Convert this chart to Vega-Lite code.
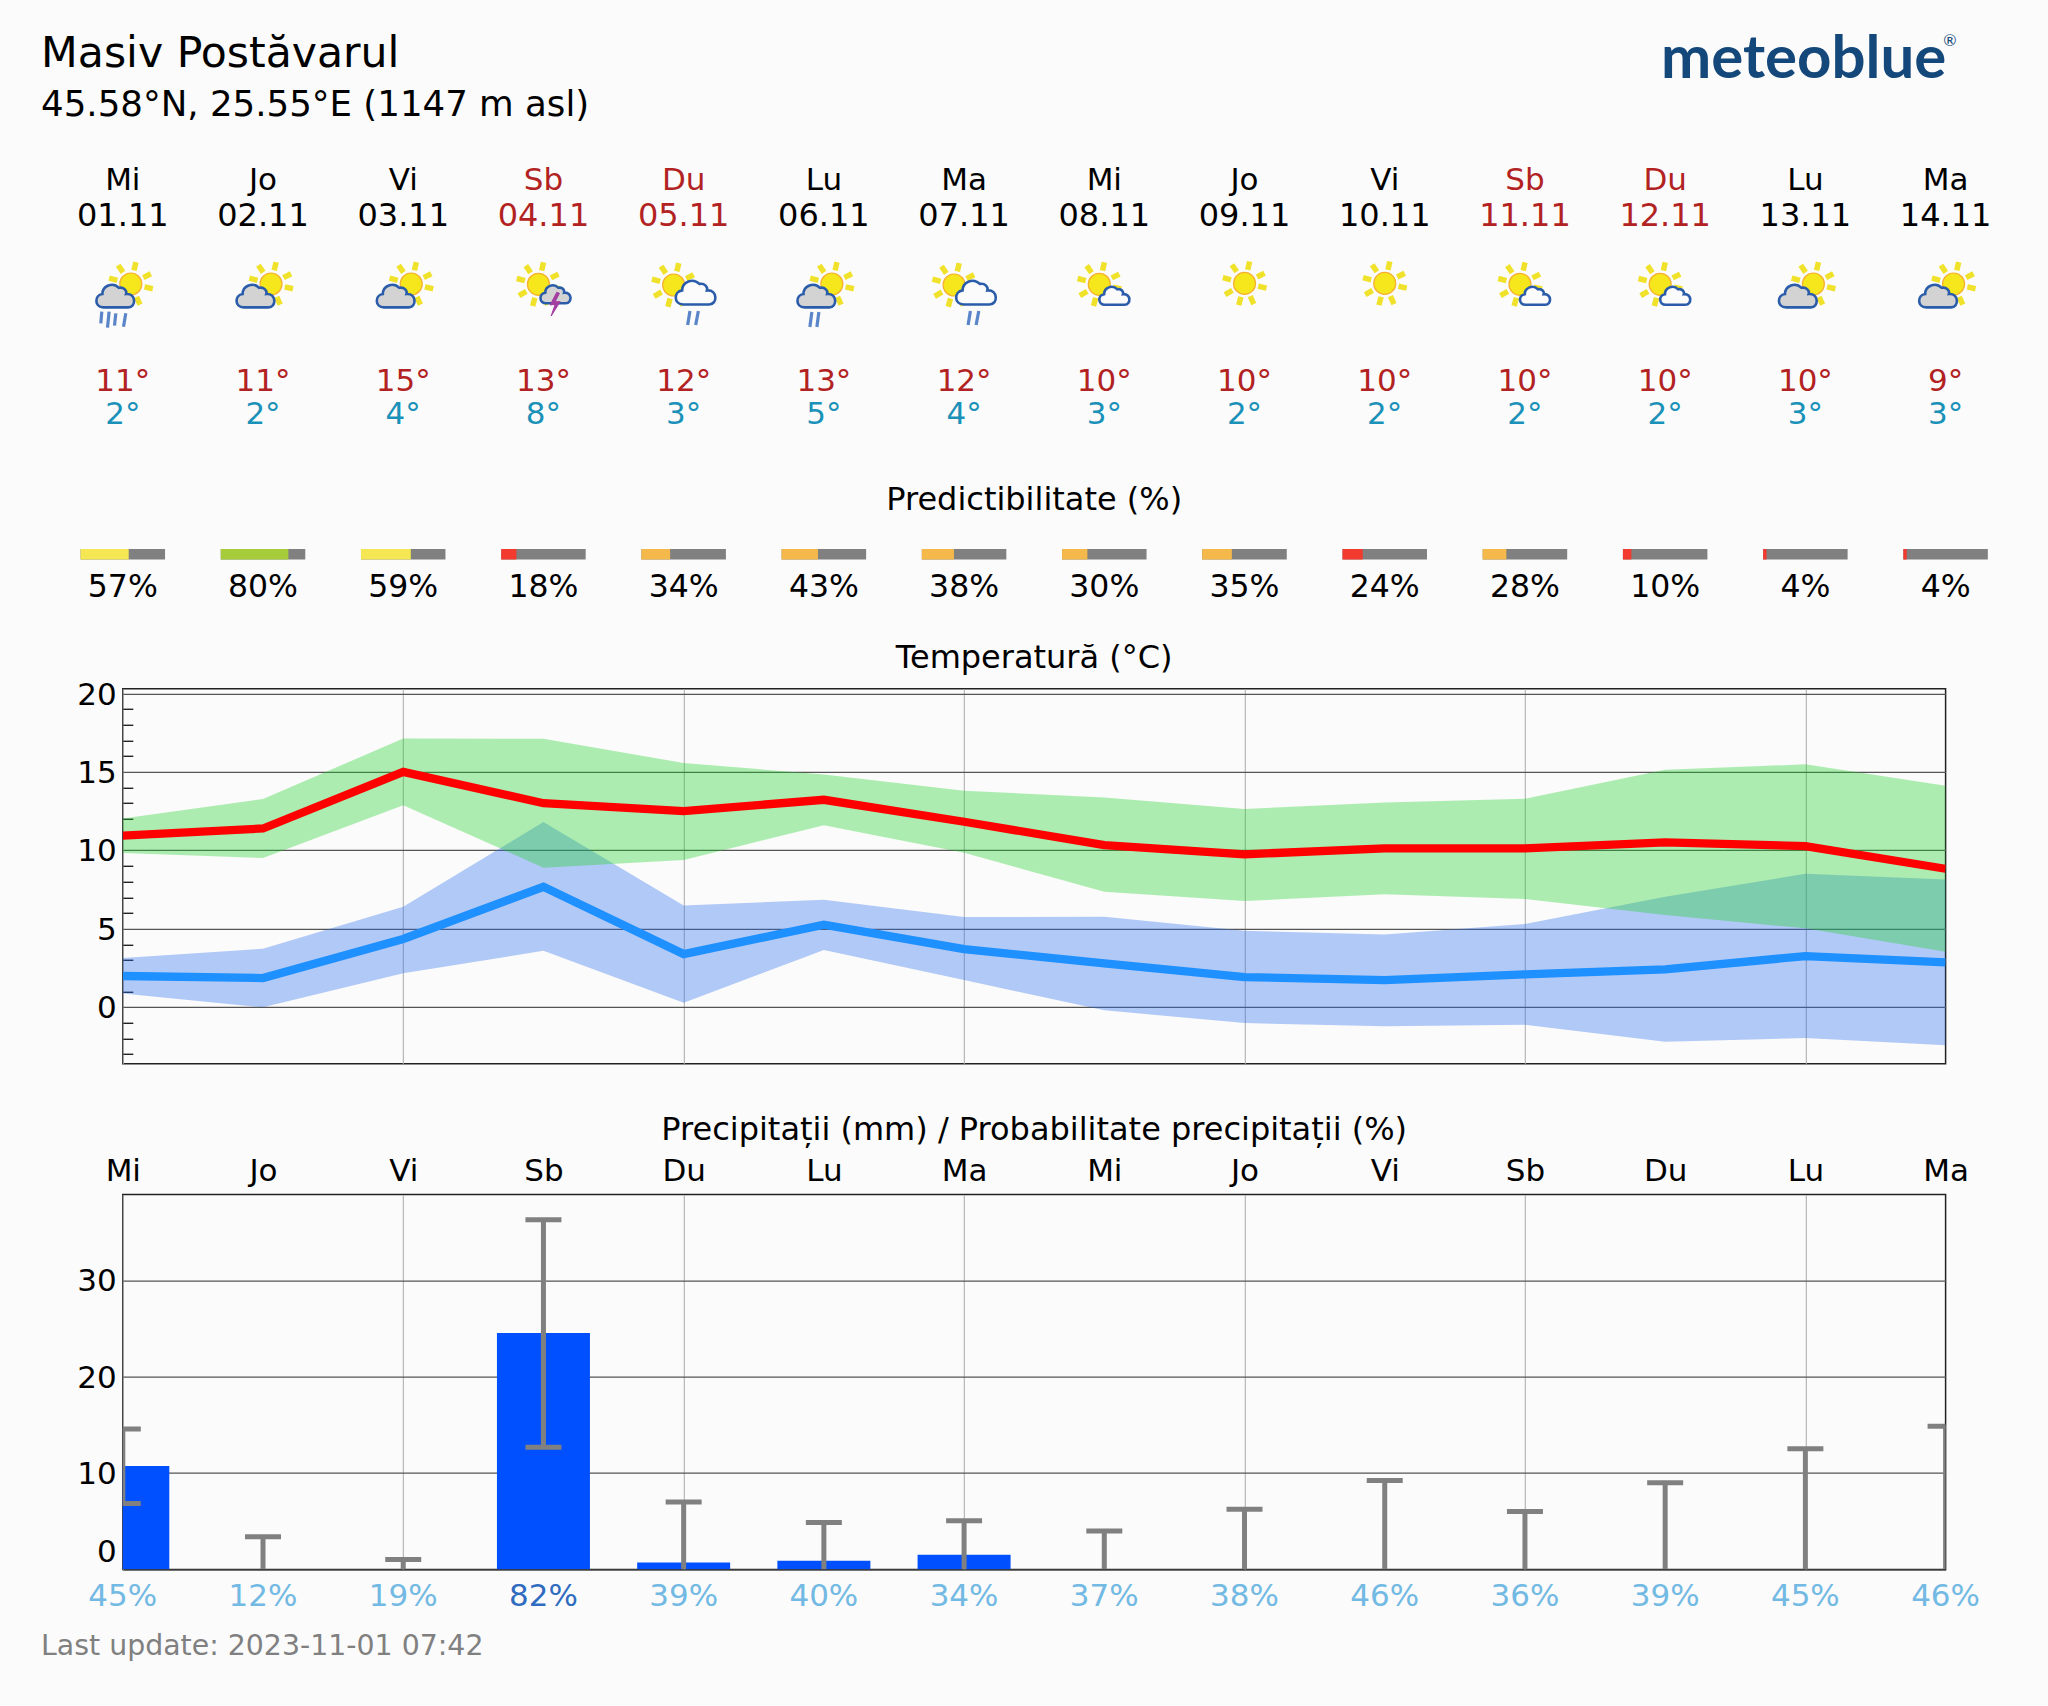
{
"$schema":"https://vega.github.io/schema/vega-lite/v6.json",
"background":"#fbfbfb",
"padding":{"left":39.8,"top":0,"right":62,"bottom":46},
"bounds":"flush",
"spacing":130.8,
"config":{"font":"DejaVu Sans","text":{"font":"DejaVu Sans"},"axis":{"labelFont":"DejaVu Sans","labelFontSize":31,"labelColor":"#000","domain":false,"title":null,"labelOverlap":false,"labelBound":false,"labelFlush":false}},
"data":{"name":"days"},
"datasets":{
"days":[
{"day":0,"weekday":"Mi","date":"01.11","kind":"lucru","maxLabel":"11°","minLabel":"2°","predict":57,"predictLabel":"57%","probLabel":"45%","prob":45,"tmax":10.93,"tmin":1.98,"gHigh":12.03,"gLow":9.82,"bHigh":3.13,"bLow":0.87,"rain":10.72,"rainLow":6.83,"rainHigh":14.57},
{"day":1,"weekday":"Jo","date":"02.11","kind":"lucru","maxLabel":"11°","minLabel":"2°","predict":80,"predictLabel":"80%","probLabel":"12%","prob":12,"tmax":11.39,"tmin":1.85,"gHigh":13.27,"gLow":9.5,"bHigh":3.72,"bLow":-0.02,"rain":0,"rainLow":0,"rainHigh":3.37},
{"day":2,"weekday":"Vi","date":"03.11","kind":"lucru","maxLabel":"15°","minLabel":"4°","predict":59,"predictLabel":"59%","probLabel":"19%","prob":19,"tmax":15.0,"tmin":4.34,"gHigh":17.13,"gLow":12.88,"bHigh":6.4,"bLow":2.15,"rain":0,"rainLow":0,"rainHigh":1.0},
{"day":3,"weekday":"Sb","date":"04.11","kind":"weekend","maxLabel":"13°","minLabel":"8°","predict":18,"predictLabel":"18%","probLabel":"82%","prob":82,"tmax":13.0,"tmin":7.67,"gHigh":17.11,"gLow":8.89,"bHigh":11.8,"bLow":3.59,"rain":24.53,"rainLow":12.66,"rainHigh":36.3},
{"day":4,"weekday":"Du","date":"05.11","kind":"weekend","maxLabel":"12°","minLabel":"3°","predict":34,"predictLabel":"34%","probLabel":"39%","prob":39,"tmax":12.5,"tmin":3.38,"gHigh":15.56,"gLow":9.38,"bHigh":6.48,"bLow":0.28,"rain":0.71,"rainLow":0,"rainHigh":6.99},
{"day":5,"weekday":"Lu","date":"06.11","kind":"lucru","maxLabel":"13°","minLabel":"5°","predict":43,"predictLabel":"43%","probLabel":"40%","prob":40,"tmax":13.22,"tmin":5.25,"gHigh":14.84,"gLow":11.6,"bHigh":6.85,"bLow":3.64,"rain":0.87,"rainLow":0,"rainHigh":4.84},
{"day":6,"weekday":"Ma","date":"07.11","kind":"lucru","maxLabel":"12°","minLabel":"4°","predict":38,"predictLabel":"38%","probLabel":"34%","prob":34,"tmax":11.82,"tmin":3.7,"gHigh":13.8,"gLow":9.84,"bHigh":5.74,"bLow":1.72,"rain":1.51,"rainLow":0,"rainHigh":5.04},
{"day":7,"weekday":"Mi","date":"08.11","kind":"lucru","maxLabel":"10°","minLabel":"3°","predict":30,"predictLabel":"30%","probLabel":"37%","prob":37,"tmax":10.33,"tmin":2.78,"gHigh":13.37,"gLow":7.36,"bHigh":5.76,"bLow":-0.21,"rain":0,"rainLow":0,"rainHigh":3.97},
{"day":8,"weekday":"Jo","date":"09.11","kind":"lucru","maxLabel":"10°","minLabel":"2°","predict":35,"predictLabel":"35%","probLabel":"38%","prob":38,"tmax":9.74,"tmin":1.91,"gHigh":12.63,"gLow":6.76,"bHigh":4.87,"bLow":-1.02,"rain":0,"rainLow":0,"rainHigh":6.23},
{"day":9,"weekday":"Vi","date":"10.11","kind":"lucru","maxLabel":"10°","minLabel":"2°","predict":24,"predictLabel":"24%","probLabel":"46%","prob":46,"tmax":10.12,"tmin":1.72,"gHigh":13.05,"gLow":7.19,"bHigh":4.63,"bLow":-1.23,"rain":0,"rainLow":0,"rainHigh":9.21},
{"day":10,"weekday":"Sb","date":"11.11","kind":"weekend","maxLabel":"10°","minLabel":"2°","predict":28,"predictLabel":"28%","probLabel":"36%","prob":36,"tmax":10.12,"tmin":2.08,"gHigh":13.29,"gLow":6.89,"bHigh":5.29,"bLow":-1.13,"rain":0,"rainLow":0,"rainHigh":5.99},
{"day":11,"weekday":"Du","date":"12.11","kind":"weekend","maxLabel":"10°","minLabel":"2°","predict":10,"predictLabel":"10%","probLabel":"39%","prob":39,"tmax":10.5,"tmin":2.4,"gHigh":15.14,"gLow":5.87,"bHigh":7.04,"bLow":-2.21,"rain":0,"rainLow":0,"rainHigh":8.97},
{"day":12,"weekday":"Lu","date":"13.11","kind":"lucru","maxLabel":"10°","minLabel":"3°","predict":4,"predictLabel":"4%","probLabel":"45%","prob":45,"tmax":10.27,"tmin":3.25,"gHigh":15.48,"gLow":5.02,"bHigh":8.5,"bLow":-1.98,"rain":0,"rainLow":0,"rainHigh":12.5},
{"day":13,"weekday":"Ma","date":"14.11","kind":"lucru","maxLabel":"9°","minLabel":"3°","predict":4,"predictLabel":"4%","probLabel":"46%","prob":46,"tmax":8.82,"tmin":2.85,"gHigh":14.12,"gLow":3.53,"bHigh":8.14,"bLow":-2.44,"rain":0,"rainLow":0,"rainHigh":14.85}
],
"icons":[
{"day":0,"part":"raysA"},{"day":0,"part":"sunA"},{"day":0,"part":"cloudA"},{"day":0,"part":"rain4"},
{"day":1,"part":"raysA"},{"day":1,"part":"sunA"},{"day":1,"part":"cloudA"},
{"day":2,"part":"raysA"},{"day":2,"part":"sunA"},{"day":2,"part":"cloudA"},
{"day":3,"part":"raysS"},{"day":3,"part":"sunS"},{"day":3,"part":"cloudD"},{"day":3,"part":"bolt"},
{"day":4,"part":"raysB"},{"day":4,"part":"sunB"},{"day":4,"part":"cloudB"},{"day":4,"part":"rainB"},
{"day":5,"part":"raysA"},{"day":5,"part":"sunA"},{"day":5,"part":"cloudA"},{"day":5,"part":"rainA"},
{"day":6,"part":"raysB"},{"day":6,"part":"sunB"},{"day":6,"part":"cloudB"},{"day":6,"part":"rainB"},
{"day":7,"part":"raysS"},{"day":7,"part":"sunS"},{"day":7,"part":"cloudS"},
{"day":8,"part":"raysC"},{"day":8,"part":"sunC"},
{"day":9,"part":"raysC"},{"day":9,"part":"sunC"},
{"day":10,"part":"raysS"},{"day":10,"part":"sunS"},{"day":10,"part":"cloudS"},
{"day":11,"part":"raysS"},{"day":11,"part":"sunS"},{"day":11,"part":"cloudS"},
{"day":12,"part":"raysA"},{"day":12,"part":"sunA"},{"day":12,"part":"cloudA"},
{"day":13,"part":"raysA"},{"day":13,"part":"sunA"},{"day":13,"part":"cloudA"}
]
},
"vconcat":[
{
"width":1822.8,"height":557.9,
"view":{"stroke":null},
"layer":[
{"mark":{"type":"text","fontSize":31,"baseline":"middle"},"encoding":{"x":{"field":"day","type":"quantitative","axis":null,"scale":{"domain":[0,13],"nice":false,"padding":0}},"y":{"datum":181,"type":"quantitative","axis":null,"scale":{"domain":[0,557.9],"reverse":true,"nice":false}},"text":{"field":"weekday"},"color":{"field":"kind","type":"nominal","scale":{"domain":["lucru","weekend"],"range":["#000000","#b22222"]},"legend":null}}},
{"mark":{"type":"text","fontSize":32,"baseline":"middle"},"encoding":{"x":{"field":"day","type":"quantitative","axis":null},"y":{"datum":215.5,"type":"quantitative","axis":null},"text":{"field":"date"},"color":{"field":"kind","type":"nominal","scale":{"domain":["lucru","weekend"],"range":["#000000","#b22222"]},"legend":null}}},
{"data":{"name":"icons"},"mark":{"type":"point","filled":true,"size":4,"opacity":1},"encoding":{"x":{"field":"day","type":"quantitative","axis":null},"y":{"datum":295,"type":"quantitative","axis":null},
"shape":{"field":"part","type":"nominal","legend":null,"scale":{"domain":["raysA","sunA","cloudA","rain4","rainA","raysB","sunB","cloudB","rainB","raysS","sunS","cloudS","cloudD","bolt","raysC","sunC"],"range":[
"M11.2,-24.6L13.1,-32.9M0.2,-22.6L-4.6,-29.7M-5.5,-14.6L-13.7,-16.8M-4.1,-4L-11.5,0.3M4.4,2.5L2.2,10.7M13.7,1.8L17.2,9.6M21.7,-8.1L30,-6.3M20.5,-17.4L28,-21.2",
"M-3,-11A11,11,0,1,0,19,-11A11,11,0,1,0,-3,-11Z",
"M-19.4,12.4C-28.6,12.4,-28.6,0,-20.4,-1C-20.4,-9.3,-10.1,-13.4,-3.9,-7.2C1.2,-8.2,4.3,-4.1,3.3,-1C13.6,-2.1,13.6,12.4,5.4,12.4Z",
"M-21,16.7L-22,28.3M-13.7,16.7L-15.3,32.7M-7,18.3L-8.3,30.7M3,18.3L0.7,31.7",
"M-5,17L-7,32M-12,17L-14,32",
"M-6.8,-23.6L-4.9,-31.9M-17.8,-21.6L-22.6,-28.7M-23.5,-13.6L-31.7,-15.8M-22.1,-3L-29.5,1.3M-13.6,3.5L-15.8,11.7M-4.3,2.8L-0.8,10.6M3.7,-7.1L12,-5.3M2.5,-16.4L10,-20.2",
"M-21,-10A11,11,0,1,0,1,-10A11,11,0,1,0,-21,-10Z",
"M-0.5,9.5C-10.2,9.5,-10.2,-3.5,-1.5,-4.6C-1.5,-13.2,9.3,-17.5,15.7,-11.1C21.1,-12.1,24.4,-7.8,23.3,-4.6C34.1,-5.7,34.1,9.5,25.5,9.5Z",
"M14.7,16L12,30M6.3,16L4,30",
"M-1.8,-24.3L0.1,-32.6M-12.8,-22.3L-17.6,-29.4M-18.5,-14.3L-26.7,-16.5M-17.1,-3.7L-24.5,0.6M-8.6,2.8L-10.8,11M0.7,2.1L4.2,9.9M8.7,-7.8L17,-6M7.5,-17.1L15,-20.9",
"M-16,-10.7A11,11,0,1,0,6,-10.7A11,11,0,1,0,-16,-10.7Z",
"M0.7,9.8C-6.7,9.8,-6.7,0,-0.2,-0.8C-0.2,-7.4,8,-10.7,13,-5.7C17.1,-6.6,19.5,-3.3,18.7,-0.8C26.9,-1.6,26.9,9.8,20.3,9.8Z",
"M2.7,8.3C-4.7,8.3,-4.7,-1.5,1.8,-2.3C1.8,-8.9,10,-12.2,15,-7.2C19.1,-8.1,21.5,-4.8,20.7,-2.3C28.9,-3.1,28.9,8.3,22.3,8.3Z",
"M13.3,-2.7L6.7,10L11.7,9.3L7.7,21L16.7,6.7L11.7,6.7L16,-1.7Z",
"M3.2,-25.2L5.1,-33.5M-7.8,-23.2L-12.6,-30.3M-13.5,-15.2L-21.7,-17.4M-12.1,-4.6L-19.5,-0.3M-3.6,1.9L-5.8,10.1M5.7,1.2L9.2,9M13.7,-8.7L22,-6.9M12.5,-18L20,-21.8",
"M-11,-11.6A11,11,0,1,0,11,-11.6A11,11,0,1,0,-11,-11.6Z"
]}},
"fill":{"field":"part","type":"nominal","legend":null,"scale":{"domain":["raysA","sunA","cloudA","rain4","rainA","raysB","sunB","cloudB","rainB","raysS","sunS","cloudS","cloudD","bolt","raysC","sunC"],"range":["transparent","#f5e71c","#d3d3d3","transparent","transparent","transparent","#f5e71c","#fbfbfb","transparent","transparent","#f5e71c","#fbfbfb","#d3d3d3","#a33ea0","transparent","#f5e71c"]}},
"stroke":{"field":"part","type":"nominal","legend":null,"scale":{"domain":["raysA","sunA","cloudA","rain4","rainA","raysB","sunB","cloudB","rainB","raysS","sunS","cloudS","cloudD","bolt","raysC","sunC"],"range":["#f0e22a","#f5b030","#2a5caa","#5a85c8","#5a85c8","#f0e22a","#f5b030","#2a5caa","#5a85c8","#f0e22a","#f5b030","#2a5caa","#2a5caa","#a33ea0","#f0e22a","#f5b030"]}},
"strokeWidth":{"field":"part","type":"nominal","legend":null,"scale":{"type":"ordinal","domain":["raysA","sunA","cloudA","rain4","rainA","raysB","sunB","cloudB","rainB","raysS","sunS","cloudS","cloudD","bolt","raysC","sunC"],"range":[5.5,1.2,2.6,3.2,3.2,5.5,1.2,2.6,3.2,5.5,1.2,2.6,2.6,1,5.5,1.2]}}
}},
{"mark":{"type":"text","fontSize":31,"baseline":"middle","color":"#b22222"},"encoding":{"x":{"field":"day","type":"quantitative","axis":null},"y":{"datum":381.5,"type":"quantitative","axis":null},"text":{"field":"maxLabel"}}},
{"mark":{"type":"text","fontSize":31,"baseline":"middle","color":"#1a91b8"},"encoding":{"x":{"field":"day","type":"quantitative","axis":null},"y":{"datum":415,"type":"quantitative","axis":null},"text":{"field":"minLabel"}}},
{"mark":{"type":"bar","size":84.5,"color":"#808080"},"encoding":{"x":{"field":"day","type":"quantitative","axis":null},"y":{"datum":549,"type":"quantitative","axis":null},"y2":{"datum":559.5}}},
{"mark":{"type":"bar","align":"left","xOffset":-42.25},"encoding":{"x":{"field":"day","type":"quantitative","axis":null},"y":{"datum":549,"type":"quantitative","axis":null},"y2":{"datum":559.5},
"size":{"field":"predict","type":"quantitative","legend":null,"scale":{"domain":[0,100],"range":[0,84.5],"zero":true}},
"color":{"field":"predict","type":"quantitative","legend":null,"scale":{"type":"threshold","domain":[25,50,75],"range":["#f33a2e","#f5b84b","#f5e653","#a6cc3c"]}}}},
{"mark":{"type":"text","fontSize":31.5,"baseline":"middle","color":"#000"},"encoding":{"x":{"field":"day","type":"quantitative","axis":null},"y":{"datum":588,"type":"quantitative","axis":null},"text":{"field":"predictLabel"}}},
{"data":{"values":[{"t":"Masiv Postăvarul"}]},"mark":{"type":"text","fontSize":42.6,"align":"left","baseline":"middle","color":"#000"},"encoding":{"x":{"datum":-0.583,"type":"quantitative","axis":null},"y":{"datum":54,"type":"quantitative","axis":null},"text":{"field":"t"}}},
{"data":{"values":[{"t":"45.58°N, 25.55°E (1147 m asl)"}]},"mark":{"type":"text","fontSize":35.6,"align":"left","baseline":"middle","color":"#000"},"encoding":{"x":{"datum":-0.583,"type":"quantitative","axis":null},"y":{"datum":105,"type":"quantitative","axis":null},"text":{"field":"t"}}},
{"data":{"values":[{"t":"meteoblue"}]},"mark":{"type":"text","font":"Lato","fontWeight":"bold","fontSize":60,"align":"left","baseline":"middle","color":"#15487a"},"encoding":{"x":{"datum":10.97,"type":"quantitative","axis":null},"y":{"datum":60,"type":"quantitative","axis":null},"text":{"field":"t"}}},
{"data":{"values":[{"t":"®"}]},"mark":{"type":"text","font":"Lato","fontSize":16,"align":"center","baseline":"middle","color":"#15487a"},"encoding":{"x":{"datum":13.03,"type":"quantitative","axis":null},"y":{"datum":41,"type":"quantitative","axis":null},"text":{"field":"t"}}},
{"data":{"values":[{"t":"Predictibilitate (%)"}]},"mark":{"type":"text","fontSize":32,"baseline":"middle","color":"#000"},"encoding":{"x":{"datum":6.5,"type":"quantitative","axis":null},"y":{"datum":500,"type":"quantitative","axis":null},"text":{"field":"t"}}},
{"data":{"values":[{"t":"Temperatură (°C)"}]},"mark":{"type":"text","fontSize":32,"baseline":"middle","color":"#000"},"encoding":{"x":{"datum":6.5,"type":"quantitative","axis":null},"y":{"datum":657.5,"type":"quantitative","axis":null},"text":{"field":"t"}}}
]
},
{
"width":1822.8,"height":375,
"view":{"stroke":"#222222","strokeWidth":1.5},
"resolve":{"axis":{"y":"independent"}},
"encoding":{"x":{"field":"day","type":"quantitative","scale":{"domain":[0,13],"nice":false},"axis":{"values":[0,2,4,6,8,10,12],"labels":false,"ticks":false,"grid":true,"gridColor":"#aaaaaa","gridWidth":1}}},
"layer":[
{"mark":{"type":"area","color":"#286ced","opacity":0.35,"clip":true},"encoding":{"y":{"field":"bLow","type":"quantitative","scale":{"domain":[-3.62,20.3],"nice":false,"zero":false},
"axis":{"values":[-3,-2,-1,0,1,2,3,4,5,6,7,8,9,10,11,12,13,14,15,16,17,18,19,20],"labelExpr":"datum.value%5===0?datum.label:''","labelPadding":16.5,"labelOffset":1.5,"tickSize":-10,"tickColor":"#222222","tickWidth":1.4,"tickOpacity":{"condition":{"test":"datum.value%5===0","value":0},"value":1},"grid":true,"gridColor":"#555555","gridWidth":1.2,"gridOpacity":{"condition":{"test":"datum.value%5===0","value":1},"value":0}}},"y2":{"field":"bHigh"}}},
{"mark":{"type":"area","color":"#1ed025","opacity":0.35,"clip":true},"encoding":{"y":{"field":"gLow","type":"quantitative","axis":null},"y2":{"field":"gHigh"}}},
{"mark":{"type":"line","color":"#ff0000","strokeWidth":8.3,"clip":true},"encoding":{"y":{"field":"tmax","type":"quantitative","axis":null}}},
{"mark":{"type":"line","color":"#1e90ff","strokeWidth":8.3,"clip":true},"encoding":{"y":{"field":"tmin","type":"quantitative","axis":null}}}
]
},
{
"width":1822.8,"height":375,
"view":{"stroke":"#222222","strokeWidth":1.5},
"resolve":{"axis":{"x":"independent","y":"independent"}},
"layer":[
{"mark":{"type":"bar","size":93,"color":"#0050ff","clip":true},"encoding":{"x":{"field":"day","type":"quantitative","scale":{"domain":[0,13],"nice":false,"padding":0},"axis":{"orient":"top","values":[0,1,2,3,4,5,6,7,8,9,10,11,12,13],"labelExpr":"['Mi','Jo','Vi','Sb','Du','Lu','Ma','Mi','Jo','Vi','Sb','Du','Lu','Ma'][datum.value]","labelPadding":7,"ticks":false,"grid":true,"gridColor":"#aaaaaa","gridWidth":1,"gridOpacity":{"condition":{"test":"datum.value%2===0","value":1},"value":0}}},"y":{"field":"rain","type":"quantitative","scale":{"domain":[-0.04,38.9],"nice":false,"zero":false},"axis":{"values":[0,10,20,30],"labelPadding":6.5,"ticks":false,"labelOffset":{"condition":{"test":"datum.value===0","value":-17},"value":1.5},"grid":true,"gridColor":"#555555","gridWidth":1.2}},"y2":{"datum":0}}},
{"mark":{"type":"rule","color":"#808080","strokeWidth":5,"clip":true},"encoding":{"x":{"field":"day","type":"quantitative","axis":null},"y":{"field":"rainLow","type":"quantitative","axis":null},"y2":{"field":"rainHigh"}}},
{"mark":{"type":"tick","orient":"horizontal","color":"#808080","size":36,"thickness":5,"opacity":1,"clip":true},"encoding":{"x":{"field":"day","type":"quantitative","axis":null},"y":{"field":"rainHigh","type":"quantitative","axis":null}}},
{"transform":[{"filter":"datum.rainLow>0"}],"mark":{"type":"tick","orient":"horizontal","color":"#808080","size":36,"thickness":5,"opacity":1,"clip":true},"encoding":{"x":{"field":"day","type":"quantitative","axis":null},"y":{"field":"rainLow","type":"quantitative","axis":null}}},
{"mark":{"type":"text","fontSize":31,"baseline":"middle"},"encoding":{"x":{"field":"day","type":"quantitative","axis":null},"y":{"datum":-2.88,"type":"quantitative","axis":null},"text":{"field":"probLabel"},"color":{"field":"prob","type":"quantitative","legend":null,"scale":{"type":"threshold","domain":[70],"range":["#72b9e3","#2f6cbf"]}}}},
{"data":{"values":[{"t":"Precipitații (mm) / Probabilitate precipitații (%)"}]},"mark":{"type":"text","fontSize":32,"baseline":"middle","color":"#000"},"encoding":{"x":{"datum":6.5,"type":"quantitative","axis":null},"y":{"datum":45.6,"type":"quantitative","axis":null},"text":{"field":"t"}}},
{"data":{"values":[{"t":"Last update: 2023-11-01 07:42"}]},"mark":{"type":"text","fontSize":28.4,"align":"left","baseline":"middle","color":"#808080"},"encoding":{"x":{"datum":-0.583,"type":"quantitative","axis":null},"y":{"datum":-8,"type":"quantitative","axis":null},"text":{"field":"t"}}}
]
}
]
}
